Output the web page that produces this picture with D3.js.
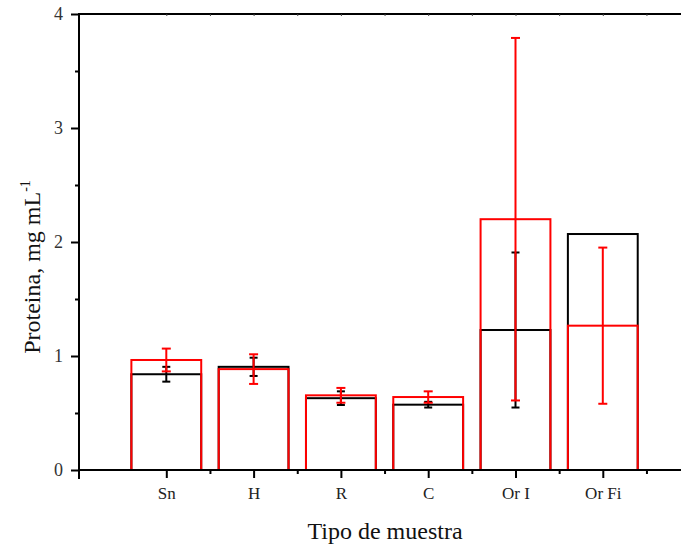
<!DOCTYPE html>
<html><head><meta charset="utf-8">
<script src="https://cdn.jsdelivr.net/npm/d3@7"></script>
<style>body{margin:0;background:#fff}svg{display:block}</style>
</head><body>
<svg id="c" width="681" height="544"></svg>
<script>
const categories = ["Sn","H","R","C","Or I","Or Fi"];
const blackValues = [0.84, 0.905, 0.63, 0.573, 1.228, 2.07];
const blackErrors = [0.065, 0.08, 0.06, 0.025, 0.68, null];
const redValues = [0.965, 0.885, 0.655, 0.64, 2.20, 1.266];
const redErrors = [0.10, 0.13, 0.065, 0.05, 1.59, 0.685];
const yTicks = [0,1,2,3,4];

const svg = d3.select("#c");
const font = "'Liberation Serif', 'DejaVu Serif', serif";
const x = d3.scaleLinear().domain([0,7]).range([79, 79+7*87.3]);
const y = d3.scaleLinear().domain([0,4]).range([470,14]);
const bw = 0.8*87.3;

function drawSeries(vals, color){
  const g = svg.append("g");
  g.selectAll("rect").data(vals).join("rect")
    .attr("x",(d,i)=>x(i+1)-bw/2).attr("width",bw)
    .attr("y",d=>y(d)).attr("height",d=>y(0)-y(d))
    .attr("fill","none").attr("stroke",color).attr("stroke-width",2);
  return g;
}
function drawErr(vals, errs, color, cap){
  const g = svg.append("g").attr("stroke",color).attr("stroke-width",2);
  vals.forEach((v,i)=>{
    const e = errs[i]; if(e==null) return;
    const cx = x(i+1);
    g.append("line").attr("x1",cx).attr("x2",cx).attr("y1",y(v+e)).attr("y2",y(v-e));
    g.append("line").attr("x1",cx-cap).attr("x2",cx+cap).attr("y1",y(v+e)).attr("y2",y(v+e));
    g.append("line").attr("x1",cx-cap).attr("x2",cx+cap).attr("y1",y(v-e)).attr("y2",y(v-e));
  });
}
drawSeries(blackValues, "#000");
drawErr(blackValues, blackErrors, "#000", 4);
drawSeries(redValues, "#ff0000");
drawErr(redValues, redErrors, "#ff0000", 4.5);

// axes
const ax = svg.append("g").attr("stroke","#000").attr("stroke-width",2).attr("fill","none");
ax.append("line").attr("x1",79).attr("x2",681).attr("y1",y(0)).attr("y2",y(0));
ax.append("line").attr("x1",79).attr("x2",681).attr("y1",y(4)).attr("y2",y(4));
ax.append("line").attr("x1",79).attr("x2",79).attr("y1",y(4)-1).attr("y2",y(0)+9);

// y ticks
const yAxis = d3.axisLeft(y).tickValues(yTicks).tickSize(8).tickFormat(d3.format("d"));
const gy = svg.append("g").attr("transform","translate(79,0)").call(yAxis);
gy.select(".domain").remove();
gy.selectAll(".tick line").attr("stroke-width",2);
gy.selectAll(".tick text").attr("font-family",font).attr("font-size",18).attr("fill","#333").attr("x",-16);
const yMinor = d3.axisLeft(y).tickValues([0.5,1.5,2.5,3.5]).tickSize(4).tickFormat("");
const gym = svg.append("g").attr("transform","translate(79,0)").call(yMinor);
gym.select(".domain").remove();
gym.selectAll(".tick line").attr("stroke-width",2);

// x ticks
const xAxis = d3.axisBottom(x).tickValues(d3.range(1,7)).tickSize(8).tickFormat(d=>categories[d-1]);
const gx = svg.append("g").attr("transform",`translate(0,${y(0)})`).call(xAxis);
gx.select(".domain").remove();
gx.selectAll(".tick line").attr("stroke-width",2);
gx.selectAll(".tick text").attr("font-family",font).attr("font-size",17).attr("fill","#222").attr("dy","0").attr("y",29);
const xMinor = d3.axisBottom(x).tickValues([1.5,2.5,3.5,4.5,5.5,6.5]).tickSize(4).tickFormat("");
const gxm = svg.append("g").attr("transform",`translate(0,${y(0)})`).call(xMinor);
gxm.select(".domain").remove();
gxm.selectAll(".tick line").attr("stroke-width",2);
// top minor ticks
const xTop = d3.axisBottom(x).tickValues([1,1.5,2,2.5,3,3.5,4,4.5,5,5.5,6,6.5]).tickSize(2).tickFormat("");
const gxt = svg.append("g").attr("transform",`translate(0,${y(4)})`).call(xTop);
gxt.select(".domain").remove();
gxt.selectAll(".tick line").attr("stroke-width",1).attr("stroke","#444");

// titles
svg.append("text").attr("x",385).attr("y",539).attr("text-anchor","middle")
  .attr("font-family",font).attr("font-size",24).attr("fill","#111").text("Tipo de muestra");
const yt = svg.append("text").attr("transform","translate(40,267) rotate(-90)").attr("text-anchor","middle")
  .attr("font-family",font).attr("font-size",24).attr("fill","#111");
yt.append("tspan").text("Proteina, mg mL");
yt.append("tspan").attr("dy",-10).attr("font-size",14).text("-1");
</script>
</body></html>
